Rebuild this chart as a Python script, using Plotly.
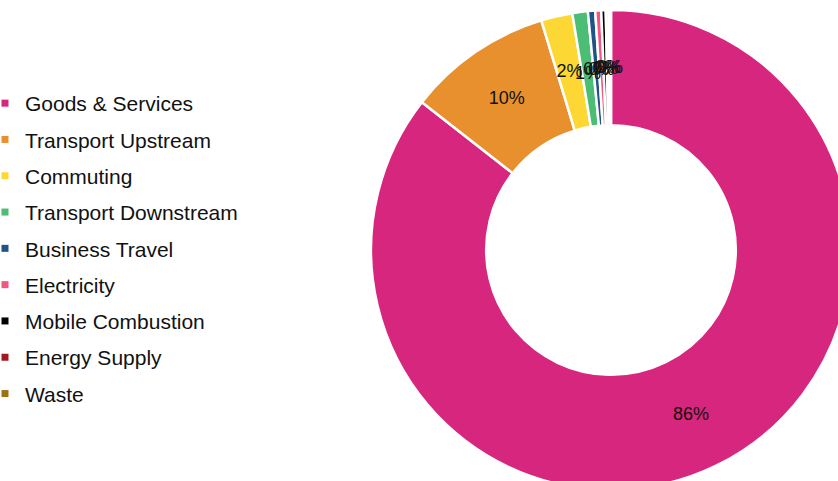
import plotly.graph_objects as go

categories = ["Goods & Services", "Transport Upstream", "Commuting", "Transport Downstream",
              "Business Travel", "Electricity", "Mobile Combustion", "Energy Supply", "Waste"]
values = [85.56, 9.75, 2.11, 1.04, 0.49, 0.40, 0.30, 0.18, 0.17]
colors = ["#D6267D", "#E8902E", "#FDD835", "#4BBD74", "#1F5585", "#F45680", "#000000", "#A5171E", "#9B7412"]
# which ring carries each slice's label: 0 = the donut itself, 1/2 = transparent label rings
label_ring = [0, 0, 1, 2, 2, 2, 2, 2, 2]

W, H = 860, 500
cx, cy, R = 611, 250, 240          # donut centre / radius in pixels
ring_radius = {1: 196, 2: 184}     # radii used to place the labels of the thin slices
FONT = "Liberation Sans, Arial, sans-serif"
pct = "%{percent:.0%}"


def dom(r):
    return dict(x=[(cx - r) / W, (cx + r) / W], y=[(H - cy - r) / H, (H - cy + r) / H])


fig = go.Figure()

# main donut
fig.add_trace(go.Pie(
    labels=categories, values=values, sort=False, direction="clockwise", rotation=0,
    hole=0.52,
    marker=dict(colors=colors, line=dict(color="white", width=2.5)),
    texttemplate=[pct if k == 0 else "" for k in label_ring],
    textposition="inside", insidetextorientation="horizontal",
    textfont=dict(family=FONT, size=18, color="#111111"),
    domain=dom(R), showlegend=False,
))

# transparent overlays carrying the labels of the thin slices
for ring, rr in ring_radius.items():
    fig.add_trace(go.Pie(
        labels=categories, values=values, sort=False, direction="clockwise", rotation=0,
        hole=0.3,
        marker=dict(colors=["rgba(0,0,0,0)"] * len(values), line=dict(width=0)),
        texttemplate=[pct if k == ring else "" for k in label_ring],
        textposition="inside", insidetextorientation="horizontal",
        textfont=dict(family=FONT, size=18, color="#111111"),
        domain=dom(rr), showlegend=False, hoverinfo="skip",
    ))

# legend entries
for name, col in zip(categories, colors):
    fig.add_trace(go.Scatter(
        x=[None], y=[None], mode="markers", name=name, legendgroup=name,
        marker=dict(symbol="square", size=7, color=col),
    ))

fig.update_layout(
    width=W, height=H,
    margin=dict(l=0, r=0, t=0, b=0, autoexpand=False),
    paper_bgcolor="white", plot_bgcolor="white",
    uniformtext=dict(minsize=18, mode="show"),
    font=dict(family=FONT, color="#111111"),
    xaxis=dict(visible=False), yaxis=dict(visible=False),
    legend=dict(
        x=-15 / W, y=1 - 83 / H, xanchor="left", yanchor="top",
        font=dict(family=FONT, size=21, color="#111111"),
        bgcolor="rgba(0,0,0,0)", borderwidth=0,
        traceorder="grouped", tracegroupgap=6,
    ),
)

fig.write_html(
    "out.html",
    config={"displayModeBar": False},
    post_script="document.documentElement.style.overflow='hidden';"
                "document.body.style.overflow='hidden';document.body.style.margin='0';",
)
